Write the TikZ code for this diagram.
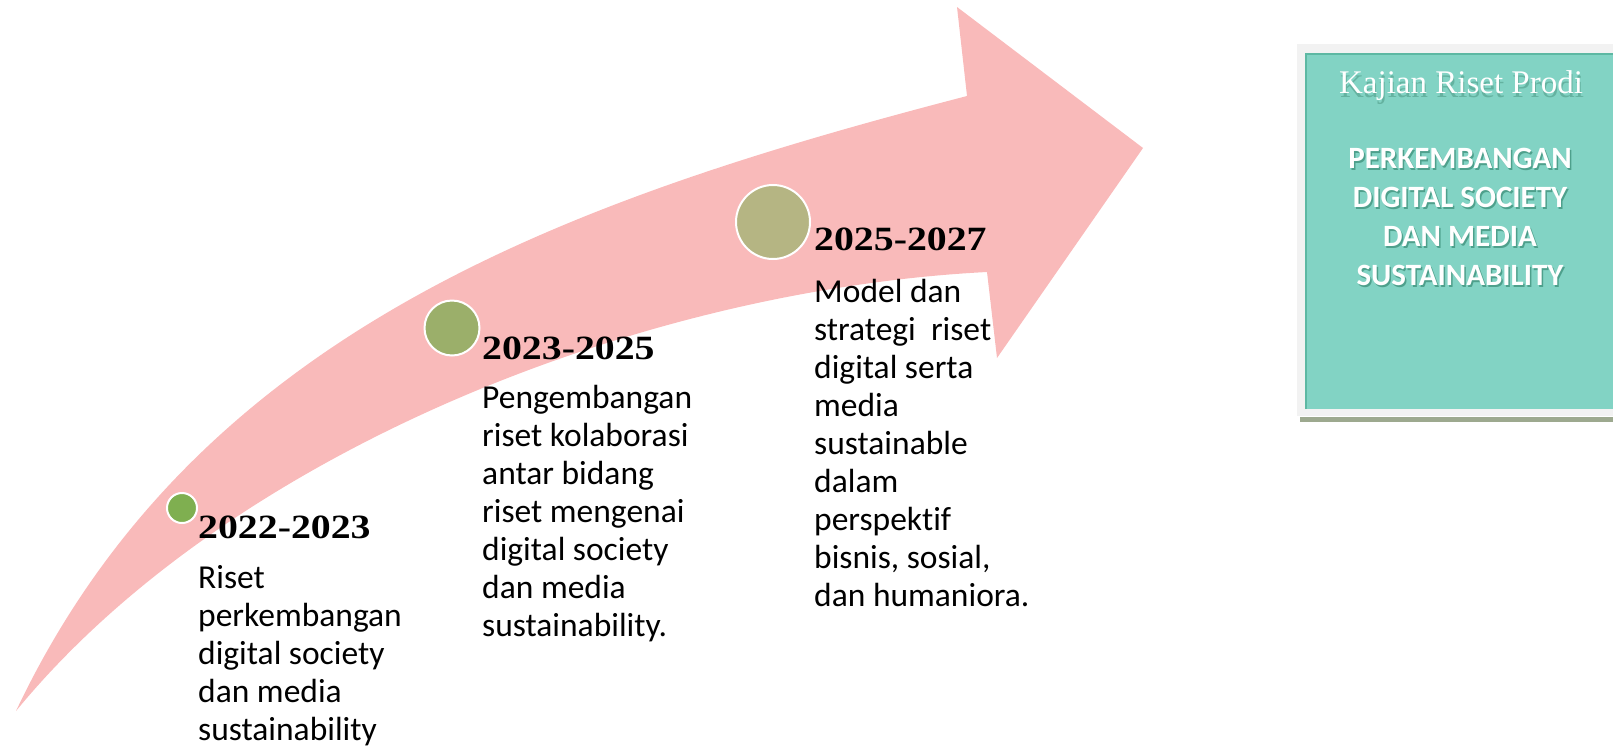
\documentclass[tikz,border=0pt]{standalone}
\usepackage{fontspec}
\newfontfamily\bodyfont[Ligatures=NoCommon]{Carlito}
\newfontfamily\yearfont[FakeStretch=1.17]{Liberation Serif}
\newfontfamily\titlefont{Liberation Serif}
\definecolor{arrowpink}{RGB}{249,186,186}
\definecolor{dotA}{RGB}{127,175,80}
\definecolor{dotB}{RGB}{155,175,106}
\definecolor{dotC}{RGB}{181,181,131}
\definecolor{tealfill}{RGB}{130,211,196}
\definecolor{tealedge}{RGB}{93,184,163}
\definecolor{framegrey}{RGB}{242,242,242}
\definecolor{bargreen}{RGB}{157,169,143}
\definecolor{shadowteal}{RGB}{78,160,140}
\definecolor{softshadow}{RGB}{100,178,160}
\newcommand{\shadowed}[4]{\rlap{\hspace*{#1}\raisebox{-#2}{\color{#3}#4}}#4}
\tikzset{
  dot/.style={circle, draw=white, line width=2pt, inner sep=0pt},
  yearlabel/.style={anchor=base west, inner sep=0pt, font=\yearfont\bfseries\fontsize{34}{40}\selectfont},
  bodytext/.style={anchor=base west, inner sep=0pt, font=\bodyfont\fontsize{33.5}{38}\selectfont},
  boxtitle/.style={anchor=base, inner sep=0pt, text=white, font=\titlefont\fontsize{33}{40}\selectfont},
  boxhead/.style={anchor=base, inner sep=0pt, text=white, font=\bodyfont\bfseries\fontsize{31}{39}\selectfont}
}
\begin{document}
\begin{tikzpicture}[x=1pt,y=-1pt]
\useasboundingbox (0,0) rectangle (1613,747);
% curved arrow
\fill[arrowpink] (16,711) .. controls (196,331) and (567,200) .. (967,96)
  -- (957,7) -- (1143,148) -- (997,358) -- (987,272)
  .. controls (637,290) and (226,455) .. (16,711) -- cycle;
% milestone dots
\node[dot, fill=dotA, minimum size=30pt] (c1) at (182,508) {};
\node[dot, fill=dotB, minimum size=55pt] (c2) at (452,328) {};
\node[dot, fill=dotC, minimum size=74pt] (c3) at (773,222) {};
% years
\node[yearlabel] (y1) at (198,538) {2022-2023};
\node[yearlabel] (y2) at (482,359) {2023-2025};
\node[yearlabel] (y3) at (814,250) {2025-2027};
% descriptions
\node[bodytext] (t1) at (198,588) {\begin{tabular}[t]{@{}l@{}}Riset\\perkembangan\\digital society\\dan media\\sustainability\end{tabular}};
\node[bodytext] (t2) at (482,408) {\begin{tabular}[t]{@{}l@{}}Pengembangan\\riset kolaborasi\\antar bidang\\riset mengenai\\digital society\\dan media\\sustainability.\end{tabular}};
\node[bodytext] (t3) at (814,302) {\begin{tabular}[t]{@{}l@{}}Model dan\\strategi\ \ riset\\digital serta\\media\\sustainable\\dalam\\perspektif\\bisnis, sosial,\\dan humaniora.\end{tabular}};
% right box
\fill[bargreen] (1300,417) rectangle (1625,422);
\fill[framegrey] (1297,44) rectangle (1625,416);
\fill[tealfill] (1305,53) rectangle (1625,409);
\draw[tealedge, line width=2.5pt] (1306,409) -- (1306,54) -- (1625,54);
\node[boxtitle] (title) at (1461,93) {\shadowed{1pt}{4pt}{softshadow}{Kajian Riset Prodi}};
\node[boxhead] (head) at (1460,168) {\begin{tabular}[t]{@{}c@{}}\shadowed{1.5pt}{2pt}{shadowteal}{PERKEMBANGAN}\\\shadowed{1.5pt}{2pt}{shadowteal}{DIGITAL SOCIETY}\\\shadowed{1.5pt}{2pt}{shadowteal}{DAN MEDIA}\\\shadowed{1.5pt}{2pt}{shadowteal}{SUSTAINABILITY}\end{tabular}};
\end{tikzpicture}
\end{document}
